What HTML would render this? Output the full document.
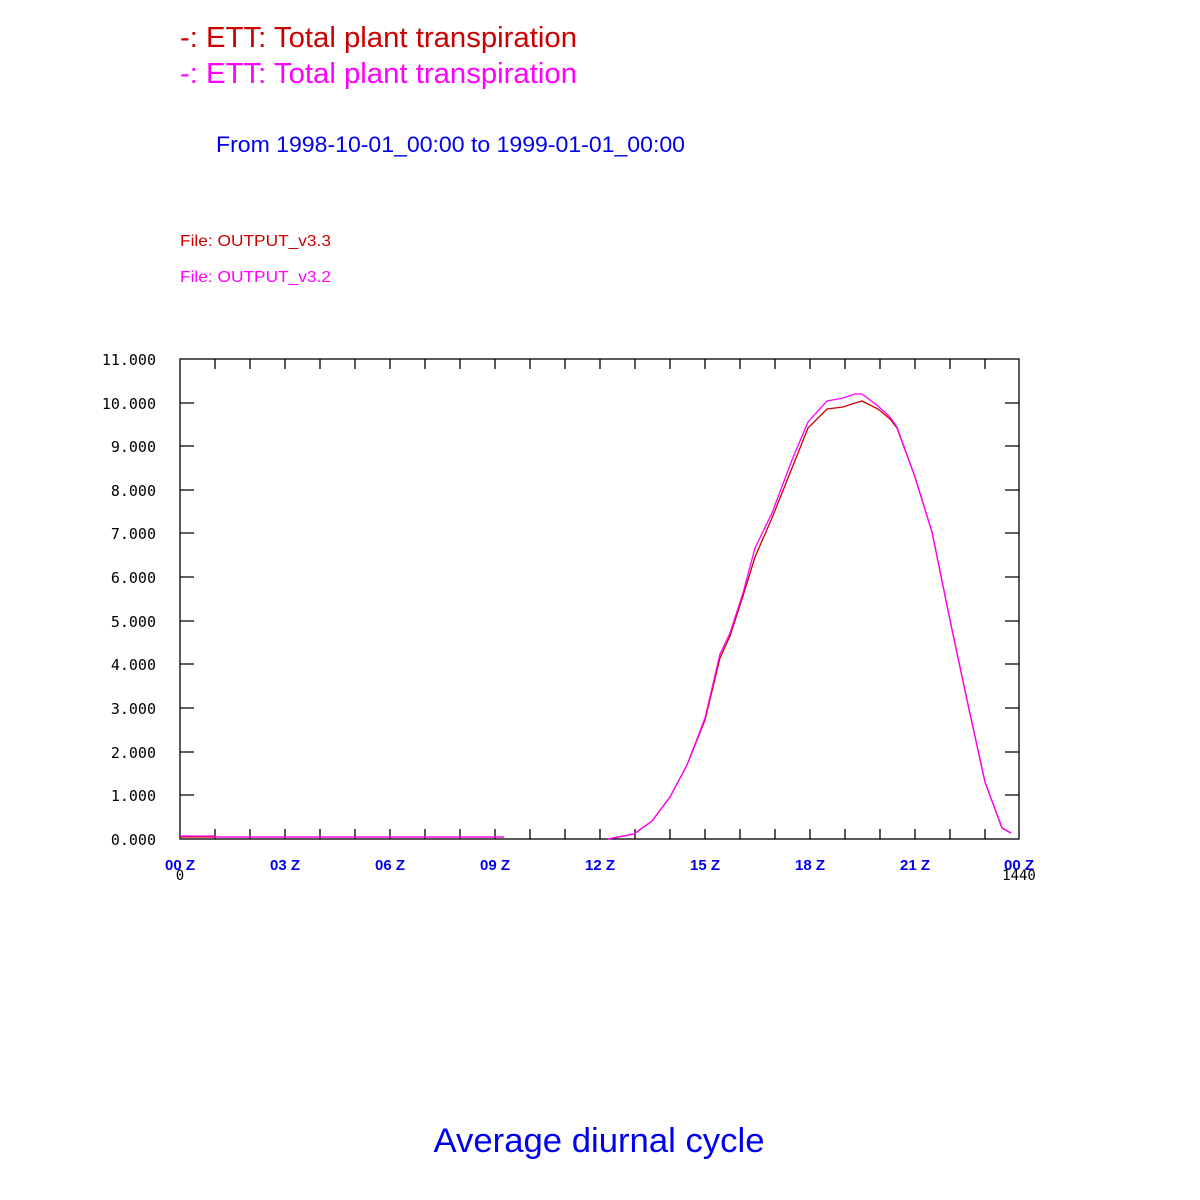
<!DOCTYPE html>
<html><head><style>html,body{margin:0;padding:0;background:#fff}</style></head><body>
<svg width="1200" height="1200" xmlns="http://www.w3.org/2000/svg" style="display:block;font-family:'Liberation Sans',sans-serif">
<rect width="1200" height="1200" fill="#fff"/>
<text x="180" y="47" font-size="29" fill="#cc0000" textLength="397" lengthAdjust="spacingAndGlyphs">-: ETT: Total plant transpiration</text>
<text x="180" y="83" font-size="29" fill="#ff00ff" textLength="397" lengthAdjust="spacingAndGlyphs">-: ETT: Total plant transpiration</text>
<text x="216" y="152" font-size="22" fill="#0000ee" textLength="469" lengthAdjust="spacingAndGlyphs">From 1998-10-01_00:00 to 1999-01-01_00:00</text>
<text x="180" y="246" font-size="16" fill="#cc0000" textLength="151" lengthAdjust="spacingAndGlyphs">File: OUTPUT_v3.3</text>
<text x="180" y="282" font-size="16" fill="#ff00ff" textLength="151" lengthAdjust="spacingAndGlyphs">File: OUTPUT_v3.2</text>
<text x="599" y="1152" font-size="34" fill="#0000ee" text-anchor="middle" textLength="331" lengthAdjust="spacingAndGlyphs">Average diurnal cycle</text>
<g stroke="#000" stroke-width="1.3" fill="none">
<rect x="180" y="359" width="839" height="480"/>
<path d="M215,359v10M250,359v10M285,359v10M320,359v10M355,359v10M390,359v10M425,359v10M460,359v10M495,359v10M530,359v10M565,359v10M600,359v10M635,359v10M670,359v10M705,359v10M740,359v10M775,359v10M810,359v10M845,359v10M880,359v10M915,359v10M950,359v10M985,359v10
M215,839v-10M250,839v-10M285,839v-10M320,839v-10M355,839v-10M390,839v-10M425,839v-10M460,839v-10M495,839v-10M530,839v-10M565,839v-10M600,839v-10M635,839v-10M670,839v-10M705,839v-10M740,839v-10M775,839v-10M810,839v-10M845,839v-10M880,839v-10M915,839v-10M950,839v-10M985,839v-10
M180,403h14M180,446h14M180,490h14M180,533h14M180,577h14M180,621h14M180,664h14M180,708h14M180,752h14M180,795h14
M1019,403h-14M1019,446h-14M1019,490h-14M1019,533h-14M1019,577h-14M1019,621h-14M1019,664h-14M1019,708h-14M1019,752h-14M1019,795h-14"/>
</g>
<g font-family="'DejaVu Sans Mono','Liberation Mono',monospace" font-size="15" fill="#000" text-anchor="end">
<text x="156" y="365">11.000</text><text x="156" y="409">10.000</text><text x="156" y="452">9.000</text>
<text x="156" y="496">8.000</text><text x="156" y="539">7.000</text><text x="156" y="583">6.000</text>
<text x="156" y="627">5.000</text><text x="156" y="670">4.000</text><text x="156" y="714">3.000</text>
<text x="156" y="758">2.000</text><text x="156" y="801">1.000</text><text x="156" y="845">0.000</text>
</g>
<g font-size="15" font-weight="bold" fill="#0000ee" text-anchor="middle">
<text x="180" y="870">00 Z</text><text x="285" y="870">03 Z</text><text x="390" y="870">06 Z</text>
<text x="495" y="870">09 Z</text><text x="600" y="870">12 Z</text><text x="705" y="870">15 Z</text>
<text x="810" y="870">18 Z</text><text x="915" y="870">21 Z</text><text x="1019" y="870">00 Z</text>
</g>
<g font-family="'DejaVu Sans Mono',monospace" font-size="14" fill="#000" text-anchor="middle">
<text x="180" y="880">0</text><text x="1019" y="880">1440</text>
</g>
<polyline fill="none" stroke="#cc0000" stroke-width="1.3" points="180,837 504,837"/>
<polyline fill="none" stroke="#cc0000" stroke-width="1.3" points="608,839 634,834 652,821 670,797 687,765 705,720 720,658 730,636 743,596 755,557 772,518 792,468 808,428 827,409 843,407 855,403 862,401 878,409 890,419 897,428 915,477 932,532 950,620 967,700 985,782 1002,828 1011,833"/>
<polyline fill="none" stroke="#ff00ff" stroke-width="1.3" points="180,836 214,836 214,837 504,837"/>
<polyline fill="none" stroke="#ff00ff" stroke-width="1.3" points="608,839 634,834 652,821 670,797 687,765 705,718 720,654 730,633 743,593 755,548 772,513 792,460 808,422 827,401 843,398 855,394 862,394 878,406 890,417 897,427 915,477 932,532 950,620 967,700 985,782 1002,828 1011,833"/>
</svg>
</body></html>
